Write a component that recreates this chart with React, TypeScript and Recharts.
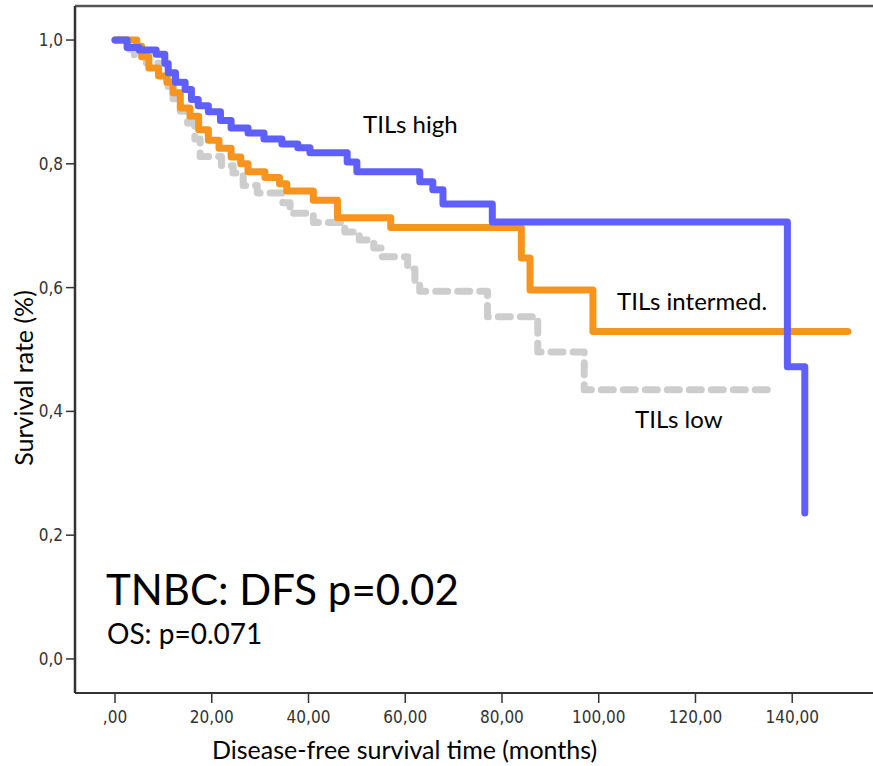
import React from 'react';
import { LineChart, Line, XAxis, YAxis, ReferenceLine, Customized } from 'recharts';

const xTicks = [0, 20, 40, 60, 80, 100, 120, 140];
const yTicks = [0, 0.2, 0.4, 0.6, 0.8, 1.0];

const highTime = [0, 2.5, 5, 8.5, 10.3, 11, 12.5, 14.5, 15.8, 17.2, 19.3, 21.8, 24, 27.5, 30.8, 34.5, 37.8, 40.3, 48, 50, 63, 65.7, 67.8, 78, 139, 142.6];
const highSurv = [1.0, 0.988, 0.984, 0.977, 0.962, 0.947, 0.932, 0.92, 0.904, 0.894, 0.884, 0.87, 0.858, 0.85, 0.84, 0.832, 0.826, 0.818, 0.803, 0.787, 0.771, 0.758, 0.735, 0.706, 0.472, 0.236];

const interTime = [0, 4.5, 5.5, 7, 9, 10.7, 12, 13.5, 15.5, 17.3, 19.3, 21.5, 24, 26, 27.5, 31, 34, 35.5, 41, 46, 57, 84, 85.8, 98.8, 151.5];
const interSurv = [1.0, 0.99, 0.973, 0.955, 0.942, 0.932, 0.915, 0.89, 0.877, 0.855, 0.838, 0.825, 0.811, 0.8, 0.787, 0.778, 0.768, 0.756, 0.741, 0.713, 0.697, 0.648, 0.596, 0.529, 0.529];

const lowTime = [0, 3, 4, 6.5, 9, 11, 12, 13.5, 15, 16.5, 17.6, 22, 24.4, 26.5, 29.4, 34.7, 36.2, 41, 47.5, 50.5, 53.5, 55, 60.5, 62, 63, 77, 87.4, 97, 136];
const lowSurv = [1.0, 0.985, 0.975, 0.963, 0.945, 0.925, 0.905, 0.885, 0.866, 0.84, 0.812, 0.797, 0.785, 0.765, 0.753, 0.737, 0.72, 0.705, 0.69, 0.677, 0.664, 0.65, 0.63, 0.612, 0.594, 0.553, 0.496, 0.435, 0.435];

const X_DOMAIN: [number, number] = [-8.27, 156.7];
const Y_DOMAIN: [number, number] = [-0.055, 1.055];

const toRows = (t: number[], s: number[]) => t.map((x, i) => ({ t: x, s: s[i] }));
const highRows = toRows(highTime, highSurv);
const interRows = toRows(interTime, interSurv);
const lowRows = toRows(lowTime, lowSurv);

const fmtX = (v: number) => (v === 0 ? ',00' : `${v},00`);
const fmtY = (v: number) => v.toFixed(1).replace('.', ',');

const TICK_FONT = '"DejaVu Sans Condensed", "DejaVu Sans", sans-serif';
const TEXT_FONT = 'Lato, "Open Sans", sans-serif';

const Annotations = () => (
  <g>
    <text x={33} y={378} transform="rotate(-90, 33, 378)" textAnchor="middle" fontFamily={TEXT_FONT} fontSize={25} fill="#000">
      Survival rate (%)
    </text>
    <text x={212} y={759} fontFamily={TEXT_FONT} fontSize={25} fill="#000">
      Disease-free survival time (months)
    </text>
    <text x={363} y={133} fontFamily={TEXT_FONT} fontSize={24} fill="#000">TILs high</text>
    <text x={617} y={310} fontFamily={TEXT_FONT} fontSize={24} fill="#000">TILs intermed.</text>
    <text x={635} y={428} fontFamily={TEXT_FONT} fontSize={24} fill="#000">TILs low</text>
    <text x={106} y={605} fontFamily={TEXT_FONT} fontSize={42} fill="#000">TNBC: DFS p=0.02</text>
    <text x={107} y={644} fontFamily={TEXT_FONT} fontSize={28} fill="#000">OS: p=0.071</text>
  </g>
);

export default function App() {
  return (
    <div style={{ position: 'absolute', left: 0, top: 0, background: '#fff' }}>
      <LineChart width={873} height={766} margin={{ top: 6, right: 0, bottom: 0, left: 0 }}>
        <XAxis
          dataKey="t"
          type="number"
          domain={X_DOMAIN}
          ticks={xTicks}
          tickFormatter={fmtX}
          allowDataOverflow
          height={73}
          tickSize={10}
          tickMargin={8}
          axisLine={{ stroke: '#333', strokeWidth: 2 }}
          tickLine={{ stroke: '#333', strokeWidth: 1.5 }}
          tick={{ fontFamily: TICK_FONT, fontSize: 17, fill: '#333' }}
        />
        <YAxis
          type="number"
          domain={Y_DOMAIN}
          ticks={yTicks}
          tickFormatter={fmtY}
          allowDataOverflow
          width={75}
          tickSize={9}
          tickMargin={3}
          axisLine={{ stroke: '#333', strokeWidth: 2.5 }}
          tickLine={{ stroke: '#333', strokeWidth: 1.5 }}
          tick={{ fontFamily: TICK_FONT, fontSize: 17, fill: '#333' }}
        />
        <ReferenceLine y={Y_DOMAIN[1]} stroke="#555" strokeWidth={2.5} ifOverflow="visible" />
        <Line
          data={lowRows}
          dataKey="s"
          type="stepAfter"
          stroke="#CDCDCD"
          strokeWidth={7}
          strokeDasharray="12 10"
          strokeLinecap="round"
          strokeLinejoin="round"
          dot={false}
          isAnimationActive={false}
        />
        <Line
          data={interRows}
          dataKey="s"
          type="stepAfter"
          stroke="#F7941D"
          strokeWidth={7}
          strokeLinecap="round"
          strokeLinejoin="round"
          dot={false}
          isAnimationActive={false}
        />
        <Line
          data={highRows}
          dataKey="s"
          type="stepAfter"
          stroke="#5F5FFF"
          strokeWidth={7}
          strokeLinecap="round"
          strokeLinejoin="round"
          dot={false}
          isAnimationActive={false}
        />
        <Customized component={<Annotations />} />
      </LineChart>
    </div>
  );
}
